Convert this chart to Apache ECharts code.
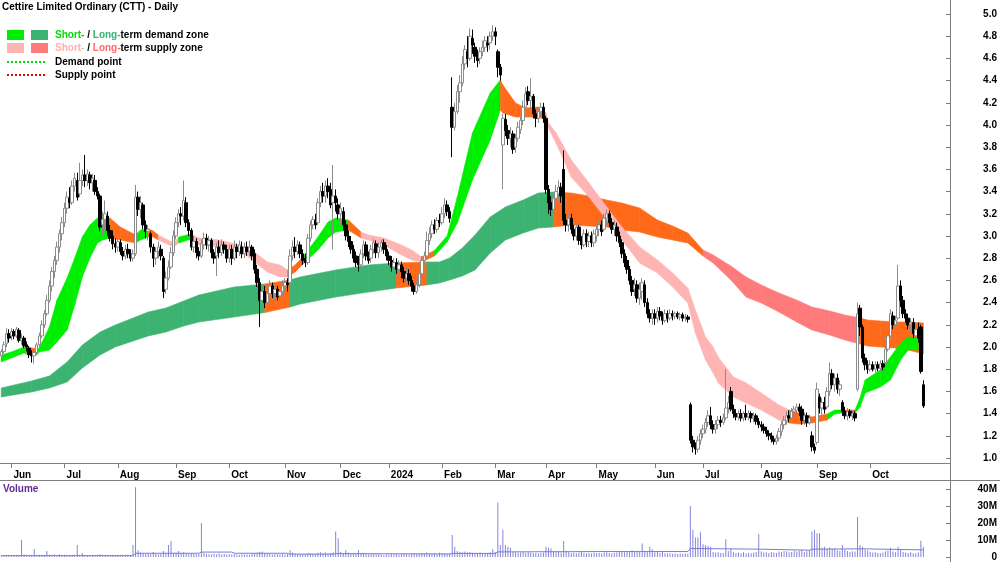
<!DOCTYPE html>
<html><head><meta charset="utf-8">
<script src="https://cdn.jsdelivr.net/npm/echarts@6/dist/echarts.min.js"></script>
<style>html,body{margin:0;padding:0;background:#fff}#c{width:1000px;height:562px}</style>
</head><body><div id="c"></div>
<script>
// ---- categories: trading months and days per month ----
const monthKeys = ['2023-05','2023-06','2023-07','2023-08','2023-09','2023-10','2023-11','2023-12','2024-01','2024-02','2024-03','2024-04','2024-05','2024-06','2024-07','2024-08','2024-09','2024-10'];
const monthLabels = ['May','Jun','Jul','Aug','Sep','Oct','Nov','Dec','2024','Feb','Mar','Apr','May','Jun','Jul','Aug','Sep','Oct'];
const tradingDays = [4,21,21,23,21,22,22,19,21,21,20,20,23,19,23,22,21,22];
const padDays = 10;

const priceTicks = {min: 1.0, max: 5.0, step: 0.2};
const volumeTicks = {min: 0, max: 40, step: 10};

// ---- daily candles [open, close, low, high] ----
const ohlc = [
// May 23
[1.92,1.96,1.88,1.98],[1.96,2.02,1.94,2.05],[2.03,2.12,2.0,2.17],[2.12,2.08,2.04,2.16],
// Jun 23
[2.1,2.14,2.06,2.17],[2.14,2.1,2.07,2.16],[2.1,2.16,2.08,2.18],[2.15,2.06,2.04,2.17],[2.06,2.08,2.02,2.12],[2.08,2.01,1.99,2.1],[2.02,2.0,1.96,2.05],[1.99,1.93,1.9,2.01],[1.94,1.92,1.86,1.97],[1.92,1.95,1.85,1.98],[1.95,2.02,1.93,2.04],[2.02,2.1,2.0,2.13],[2.1,2.2,2.08,2.24],[2.2,2.3,2.17,2.33],[2.3,2.42,2.28,2.47],[2.42,2.55,2.4,2.6],[2.55,2.68,2.5,2.72],[2.68,2.78,2.62,2.82],[2.78,2.9,2.74,2.95],[2.9,3.02,2.85,3.06],[3.02,3.12,2.96,3.17],
// Jul 23
[3.12,3.25,3.08,3.3],[3.25,3.35,3.2,3.4],[3.34,3.3,3.25,3.44],[3.3,3.45,3.28,3.5],[3.45,3.52,3.4,3.57],[3.5,3.35,3.32,3.57],[3.38,3.5,3.35,3.66],[3.5,3.55,3.45,3.6],[3.55,3.5,3.44,3.73],[3.5,3.56,3.45,3.6],[3.55,3.48,3.42,3.58],[3.48,3.52,3.4,3.56],[3.5,3.4,3.37,3.55],[3.4,3.36,3.33,3.44],[3.36,3.08,3.04,3.38],[3.1,3.15,3.0,3.22],[3.15,3.2,3.05,3.32],[3.18,3.05,3.0,3.22],[3.05,2.98,2.95,3.1],[3.0,2.93,2.88,3.05],[2.93,2.9,2.85,2.98],
// Aug 23
[2.9,2.95,2.86,2.98],[2.94,2.86,2.83,2.97],[2.86,2.82,2.78,2.9],[2.82,2.88,2.79,2.92],[2.88,2.84,2.8,2.93],[2.84,2.8,2.77,2.88],[2.8,2.84,2.77,2.88],[2.84,3.35,2.82,3.46],[3.35,3.24,3.18,3.4],[3.24,3.3,3.16,3.36],[3.28,3.1,3.06,3.3],[3.1,3.04,2.98,3.14],[3.04,3.06,2.96,3.1],[3.02,2.9,2.85,3.04],[2.9,2.8,2.72,2.93],[2.8,2.86,2.74,2.9],[2.86,2.9,2.8,2.95],[2.88,2.82,2.78,2.92],[2.8,2.5,2.44,2.82],[2.52,2.62,2.48,2.68],[2.62,2.72,2.6,2.78],[2.72,2.85,2.7,2.9],[2.85,3.0,2.82,3.05],
// Sep 23
[3.0,3.12,2.97,3.17],[3.12,3.2,3.08,3.24],[3.2,3.18,3.1,3.26],[3.18,3.32,3.14,3.5],[3.3,3.12,3.08,3.35],[3.12,3.05,3.0,3.15],[3.05,2.9,2.87,3.07],[2.9,2.95,2.85,3.0],[2.95,2.85,2.8,2.98],[2.86,2.82,2.78,2.9],[2.82,2.93,2.8,2.97],[2.92,2.98,2.88,3.03],[2.98,2.92,2.88,3.02],[2.92,2.96,2.86,3.0],[2.96,2.85,2.8,2.98],[2.85,2.8,2.75,2.88],[2.82,2.9,2.64,2.94],[2.9,2.85,2.8,2.96],[2.85,2.92,2.82,2.97],[2.92,2.88,2.84,2.95],[2.88,2.8,2.76,2.92],
// Oct 23
[2.8,2.88,2.76,2.92],[2.88,2.8,2.74,2.92],[2.8,2.9,2.78,2.96],[2.9,2.86,2.8,2.93],[2.86,2.92,2.82,2.96],[2.9,2.84,2.8,2.95],[2.84,2.9,2.8,2.94],[2.9,2.86,2.82,2.95],[2.86,2.9,2.82,2.96],[2.9,2.82,2.78,2.92],[2.84,2.7,2.66,2.88],[2.7,2.58,2.54,2.74],[2.58,2.42,2.18,2.62],[2.42,2.5,2.36,2.56],[2.5,2.4,2.35,2.55],[2.4,2.48,2.36,2.52],[2.48,2.55,2.42,2.6],[2.55,2.48,2.44,2.58],[2.48,2.52,2.42,2.56],[2.52,2.45,2.42,2.55],[2.46,2.5,2.42,2.56],[2.5,2.55,2.46,2.6],
// Nov 23
[2.55,2.58,2.5,2.62],[2.58,2.56,2.5,2.62],[2.58,2.82,2.56,2.88],[2.82,2.9,2.78,2.96],[2.9,2.86,2.8,2.99],[2.86,2.92,2.83,2.96],[2.92,2.84,2.8,2.95],[2.84,2.78,2.74,2.88],[2.8,2.76,2.72,2.84],[2.76,2.98,2.74,3.02],[2.98,3.1,2.95,3.14],[3.1,3.15,3.06,3.18],[3.14,3.1,3.06,3.2],[3.12,3.3,3.1,3.34],[3.3,3.4,3.26,3.45],[3.4,3.36,3.3,3.48],[3.36,3.45,3.3,3.5],[3.45,3.4,3.34,3.52],[3.42,3.28,3.25,3.48],[3.3,3.36,2.88,3.64],[3.36,3.3,3.22,3.42],[3.28,3.2,3.15,3.34],
// Dec 23
[3.2,3.25,3.1,3.3],[3.22,3.1,3.05,3.26],[3.1,3.0,2.96,3.14],[3.0,2.95,2.9,3.05],[2.95,2.88,2.84,3.0],[2.88,2.8,2.76,2.92],[2.82,2.76,2.72,2.86],[2.76,2.74,2.68,2.82],[2.74,2.84,2.72,2.88],[2.84,2.92,2.8,2.96],[2.92,2.82,2.78,2.95],[2.82,2.78,2.75,2.86],[2.8,2.88,2.76,2.92],[2.88,2.94,2.84,2.97],[2.93,2.85,2.8,2.96],[2.85,2.9,2.8,2.94],[2.9,2.94,2.86,2.97],[2.94,2.88,2.84,2.97],[2.88,2.82,2.78,2.92],
// Jan 24
[2.82,2.78,2.74,2.86],[2.78,2.72,2.68,2.82],[2.72,2.76,2.68,2.8],[2.76,2.7,2.66,2.8],[2.7,2.74,2.66,2.78],[2.74,2.68,2.62,2.77],[2.68,2.62,2.58,2.72],[2.62,2.66,2.58,2.72],[2.66,2.6,2.56,2.7],[2.6,2.55,2.5,2.64],[2.55,2.5,2.47,2.58],[2.5,2.56,2.48,2.6],[2.56,2.66,2.54,2.7],[2.66,2.78,2.62,2.82],[2.78,2.82,2.74,2.86],[2.82,2.96,2.8,3.04],[2.96,3.02,2.92,3.08],[3.02,3.1,2.98,3.14],[3.1,3.06,3.02,3.15],[3.06,3.14,3.03,3.17],[3.14,3.12,3.08,3.2],
// Feb 24
[3.12,3.2,3.1,3.26],[3.2,3.28,3.16,3.34],[3.28,3.22,3.18,3.32],[3.22,3.16,3.12,3.26],[4.16,3.98,3.71,4.43],[3.98,4.12,3.95,4.2],[4.12,4.3,4.1,4.36],[4.3,4.38,4.2,4.45],[4.38,4.55,4.35,4.62],[4.55,4.68,4.5,4.72],[4.66,4.6,4.52,4.8],[4.6,4.8,4.58,4.87],[4.78,4.72,4.64,4.86],[4.7,4.62,4.56,4.74],[4.62,4.58,4.52,4.68],[4.6,4.66,4.55,4.7],[4.66,4.7,4.62,4.76],[4.7,4.76,4.66,4.8],[4.74,4.72,4.66,4.8],[4.74,4.8,4.68,4.84],[4.8,4.84,4.76,4.9],
// Mar 24
[4.84,4.8,4.72,4.88],[4.66,4.52,4.43,4.68],[4.52,4.45,4.4,4.55],[3.82,4.06,3.42,4.1],[4.05,3.95,3.9,4.1],[3.95,3.88,3.82,4.0],[3.88,3.92,3.8,3.98],[3.92,3.78,3.74,3.95],[3.8,3.88,3.75,3.92],[3.88,3.98,3.85,4.03],[3.96,4.04,3.92,4.08],[4.04,4.16,4.0,4.22],[4.16,4.28,4.12,4.34],[4.3,4.22,4.18,4.35],[4.22,4.26,4.15,4.42],[4.26,4.1,4.06,4.28],[4.1,4.06,3.98,4.14],[4.06,4.12,4.02,4.16],[4.12,4.16,4.08,4.2],[4.16,4.06,4.02,4.2],
// Apr 24
[4.06,3.42,3.38,4.08],[3.42,3.3,3.2,3.46],[3.3,3.24,3.18,3.36],[3.24,3.34,3.2,3.38],[3.34,3.4,3.3,3.46],[3.38,3.44,3.32,3.5],[3.44,3.36,3.3,3.48],[3.6,3.14,3.1,3.77],[3.14,3.1,3.04,3.2],[3.1,3.16,3.04,3.2],[3.16,3.06,3.02,3.2],[3.06,3.0,2.96,3.1],[3.0,3.08,2.96,3.12],[3.08,2.96,2.92,3.1],[2.96,2.92,2.88,3.0],[2.92,3.02,2.9,3.06],[3.02,2.95,2.9,3.06],[2.95,3.0,2.9,3.04],[3.0,2.94,2.9,3.04],[2.94,3.02,2.9,3.06],
// May 24
[3.0,3.06,2.95,3.1],[3.06,3.1,3.0,3.14],[3.1,3.04,3.0,3.14],[3.06,3.16,3.04,3.2],[3.16,3.2,3.1,3.24],[3.2,3.12,3.08,3.23],[3.12,3.06,3.02,3.16],[3.06,3.1,3.0,3.14],[3.08,3.0,2.95,3.12],[3.0,2.94,2.9,3.04],[2.94,2.84,2.8,2.97],[2.84,2.76,2.72,2.88],[2.78,2.7,2.66,2.82],[2.7,2.6,2.56,2.73],[2.6,2.5,2.46,2.64],[2.52,2.56,2.46,2.62],[2.56,2.44,2.4,2.6],[2.44,2.52,2.38,2.58],[2.5,2.58,2.42,2.62],[2.56,2.4,2.36,2.6],[2.4,2.3,2.26,2.44],[2.3,2.26,2.22,2.34],[2.26,2.3,2.2,2.34],
// Jun 24
[2.3,2.26,2.2,2.34],[2.26,2.32,2.22,2.36],[2.32,2.28,2.24,2.36],[2.28,2.24,2.2,2.32],[2.24,2.3,2.22,2.34],[2.3,2.26,2.22,2.33],[2.26,2.3,2.24,2.34],[2.3,2.28,2.24,2.33],[2.28,2.3,2.25,2.32],[2.3,2.27,2.25,2.32],[2.27,2.29,2.24,2.31],[2.29,2.26,2.23,2.31],[2.26,2.27,2.23,2.3],[2.27,2.25,2.22,2.29],[1.48,1.16,1.13,1.5],[1.16,1.1,1.05,1.2],[1.1,1.08,1.03,1.14],[1.08,1.16,1.05,1.2],[1.16,1.22,1.12,1.26],
// Jul 24
[1.22,1.26,1.18,1.3],[1.26,1.32,1.22,1.36],[1.32,1.38,1.28,1.43],[1.38,1.3,1.26,1.46],[1.3,1.26,1.22,1.34],[1.26,1.3,1.22,1.34],[1.3,1.34,1.26,1.38],[1.34,1.32,1.28,1.38],[1.32,1.36,1.3,1.4],[1.36,1.45,1.34,1.8],[1.45,1.5,1.4,1.56],[1.6,1.44,1.42,1.64],[1.44,1.4,1.36,1.48],[1.4,1.37,1.34,1.44],[1.37,1.4,1.34,1.43],[1.4,1.36,1.33,1.44],[1.36,1.4,1.33,1.42],[1.4,1.37,1.34,1.48],[1.37,1.4,1.34,1.43],[1.4,1.36,1.32,1.42],[1.36,1.38,1.32,1.41],[1.38,1.33,1.3,1.4],[1.33,1.3,1.27,1.36],
// Aug 24
[1.3,1.28,1.24,1.33],[1.28,1.25,1.22,1.31],[1.25,1.22,1.19,1.28],[1.22,1.2,1.16,1.25],[1.2,1.17,1.14,1.23],[1.17,1.15,1.12,1.2],[1.15,1.18,1.12,1.21],[1.18,1.24,1.15,1.27],[1.24,1.3,1.2,1.33],[1.3,1.34,1.26,1.38],[1.34,1.38,1.3,1.42],[1.38,1.36,1.32,1.43],[1.36,1.42,1.33,1.45],[1.42,1.44,1.38,1.47],[1.43,1.46,1.4,1.49],[1.46,1.42,1.38,1.49],[1.44,1.34,1.3,1.47],[1.34,1.38,1.3,1.41],[1.38,1.32,1.28,1.41],[1.32,1.36,1.3,1.39],[1.2,1.1,1.06,1.24],[1.1,1.07,1.04,1.13],
// Sep 24
[1.14,1.62,1.12,1.68],[1.55,1.45,1.4,1.58],[1.45,1.5,1.38,1.54],[1.5,1.44,1.4,1.55],[1.46,1.6,1.44,1.64],[1.6,1.76,1.56,1.86],[1.76,1.66,1.62,1.8],[1.66,1.72,1.6,1.76],[1.72,1.62,1.58,1.76],[1.62,1.66,1.56,1.7],[1.5,1.42,1.38,1.52],[1.42,1.38,1.35,1.46],[1.38,1.42,1.34,1.45],[1.42,1.38,1.36,1.44],[1.38,1.4,1.34,1.43],[1.4,1.36,1.33,1.42],[1.62,2.3,1.6,2.4],[2.35,2.18,2.1,2.38],[2.18,1.9,1.86,2.2],[1.9,1.84,1.79,1.94],[1.84,1.8,1.76,1.88],
// Oct 24
[1.8,1.84,1.78,1.88],[1.84,1.8,1.78,1.87],[1.8,1.84,1.77,1.87],[1.84,1.81,1.78,1.87],[1.81,1.85,1.78,1.88],[1.85,1.82,1.79,1.88],[1.86,1.98,1.84,2.02],[1.98,2.1,1.96,2.14],[2.1,2.3,2.08,2.34],[2.28,2.2,2.16,2.32],[2.2,2.24,2.14,2.28],[2.26,2.55,2.24,2.74],[2.55,2.42,2.36,2.6],[2.42,2.3,2.26,2.46],[2.3,2.26,2.22,2.34],[2.26,2.2,2.16,2.3],[2.2,2.22,2.14,2.26],[2.22,2.12,2.08,2.26],[2.1,2.16,2.04,2.2],[2.16,2.08,2.04,2.22],[2.18,1.78,1.76,2.2],[1.66,1.47,1.45,1.7]
];

// ---- daily volume, millions ----
const volumes = [
0.8,1.0,1.2,0.9,
1.0,0.7,1.1,0.9,10.0,1.4,1.0,0.8,1.2,4.7,1.0,1.3,0.9,1.1,3.5,1.2,1.1,1.5,1.2,1.4,1.0,
1.3,1.1,0.9,1.2,1.0,7.0,1.1,2.4,1.0,0.9,0.8,1.0,0.9,0.8,1.4,1.0,0.8,0.7,0.9,0.7,0.8,
0.8,0.7,0.9,0.7,0.9,1.0,7.0,41.0,4.0,2.6,2.0,1.8,2.0,1.6,3.0,1.9,1.5,1.7,3.5,2.2,7.0,9.4,2.4,
2.5,3.5,2.2,2.8,2.0,1.8,2.1,1.9,1.6,1.8,20.0,2.4,1.9,1.7,1.5,1.9,1.6,2.0,1.4,1.7,1.5,
1.6,1.4,1.8,1.5,1.3,1.6,1.4,1.5,1.2,1.7,2.2,2.5,3.0,3.2,2.4,1.9,1.7,1.5,1.8,1.6,1.4,1.7,
1.5,1.8,4.0,2.6,2.0,1.7,1.5,1.8,1.6,2.4,2.2,1.9,1.7,2.5,2.8,2.2,2.6,2.0,2.4,2.8,15.0,11.0,
3.0,2.4,4.0,2.6,2.2,2.0,1.8,4.0,2.1,1.9,1.7,1.5,1.8,1.6,1.4,1.7,1.3,1.1,1.5,
1.4,1.6,1.5,1.8,1.4,1.7,2.0,1.6,1.5,1.9,2.2,1.8,2.0,2.3,2.1,2.6,2.2,1.9,2.0,1.8,2.5,
2.2,2.0,1.8,1.9,13.0,6.0,3.5,3.0,2.8,3.2,2.6,3.0,2.5,2.4,2.2,2.6,2.3,2.0,2.4,2.8,4.5,
3.0,32.0,7.0,16.0,7.0,6.0,5.5,3.2,2.8,2.5,2.6,3.0,2.4,2.8,2.6,2.2,2.4,2.0,2.3,2.6,
6.0,5.5,5.0,3.5,2.8,3.0,2.6,9.4,3.4,2.8,2.4,2.6,2.2,2.5,3.5,2.3,2.0,2.4,2.1,2.6,
2.2,2.4,2.0,2.6,2.8,2.3,2.1,2.5,2.7,3.0,3.2,2.8,3.4,3.0,4.0,3.2,3.6,3.0,8.0,3.4,3.0,6.0,4.5,
2.8,3.5,2.4,3.0,2.2,2.0,2.4,1.9,2.1,1.8,2.0,1.7,2.2,1.9,30.0,16.0,11.5,11.5,14.5,
7.5,7.0,6.5,6.0,3.0,2.6,2.8,2.4,2.2,10.5,3.6,5.0,3.0,2.4,2.6,2.2,2.8,2.0,2.4,2.2,2.6,3.0,13.5,
3.2,2.6,2.8,2.4,3.0,2.6,2.4,3.2,3.0,3.6,3.4,2.8,3.0,3.8,3.2,3.6,4.2,3.0,3.4,3.8,15.0,16.0,
14.0,14.0,5.5,6.0,5.0,5.6,4.8,5.2,4.0,3.6,7.0,4.2,3.5,3.0,3.4,3.2,23.5,7.0,6.0,4.2,3.8,
3.0,2.6,2.8,2.4,2.2,2.6,3.4,3.8,5.5,3.2,2.8,6.0,4.4,3.0,2.6,2.4,2.8,2.2,2.0,2.6,9.5,6.0
];

// ---- volume moving average [dayIndex, millions] ----
const volumeAvg = [[0,0.8],[52,0.8],[53,2.2],[78,2.2],[79,2.9],[91,2.9],[92,2.2],[113,2.2],[114,1.7],[131,1.7],[132,2.0],[177,1.8],[178,2.1],[195,2.1],[196,3.0],[240,3.2],[271,3.2],[272,5.0],[300,4.6],[319,4.0],[320,4.6],[340,4.8],[364,4.2]];

// ---- zones [dayIndex, lower, upper, state] ; state: SD short demand, LD long demand, SS short supply, LS long supply, N neutral ----
const longBand = [
[0,1.550,1.631,'LD'],[12,1.595,1.694,'LD'],[19,1.631,1.739,'LD'],[26,1.685,1.865,'LD'],[32,1.811,2.018,'LD'],[39,1.928,2.135,'LD'],[45,2.0,2.198,'LD'],[52,2.054,2.261,'LD'],[58,2.099,2.315,'LD'],[65,2.135,2.351,'LD'],[72,2.189,2.414,'LD'],[78,2.225,2.468,'LD'],[92,2.270,2.541,'LD'],
[104,2.31,2.568,'N'],[114,2.36,2.604,'LD'],[118,2.387,2.631,'LD'],[132,2.45,2.694,'LD'],[145,2.495,2.739,'LD'],[156,2.532,2.757,'N'],[168,2.559,2.766,'LD'],[173,2.577,2.766,'LD'],[177,2.604,2.802,'LD'],[182,2.64,2.892,'LD'],[187,2.694,3.009,'LD'],[193,2.847,3.171,'LD'],[199,2.964,3.261,'LD'],[206,3.027,3.324,'LD'],[212,3.072,3.387,'LD'],
[218,3.081,3.396,'N'],[225,3.099,3.387,'N'],[232,3.09,3.36,'N'],[239,3.081,3.324,'N'],[245,3.054,3.297,'N'],[252,3.036,3.252,'N'],[259,2.991,3.144,'N'],[265,2.964,3.09,'N'],[271,2.937,3.027,'N'],
[277,2.82,2.874,'LS'],[281,2.757,2.829,'LS'],[288,2.604,2.73,'LS'],[294,2.45,2.631,'LS'],[300,2.396,2.559,'LS'],[307,2.315,2.486,'LS'],[314,2.225,2.423,'LS'],[320,2.153,2.36,'LS'],[327,2.108,2.324,'LS'],[333,2.063,2.288,'LS'],
[339,2.027,2.261,'N'],[342,2.009,2.243,'N'],[347,2.0,2.234,'N'],[353,1.991,2.225,'N'],[358,1.973,2.225,'N'],[364,1.937,2.216,'N']
];
const shortBand = [
[0,1.865,1.928,'SD'],[4,1.901,1.955,'SD'],[9,1.946,2.0,'SD'],[10,1.937,2.0,'N'],[14,1.928,1.982,'SD'],[15,1.955,1.991,'SD'],[19,1.973,2.18,'SD'],[22,2.045,2.423,'SD'],[26,2.153,2.622,'SD'],[29,2.378,2.802,'SD'],[32,2.631,2.991,'SD'],[35,2.802,3.099,'SD'],[38,2.937,3.162,'SD'],[40,2.964,3.171,'SD'],
[43,2.982,3.16,'N'],[47,2.964,3.081,'N'],[53,2.937,3.01,'SD'],[55,2.964,3.054,'SD'],[58,2.991,3.065,'N'],[60,2.991,3.045,'N'],[62,2.964,3.009,'SS'],[68,2.901,2.937,'SS'],[70,2.937,2.991,'SD'],[75,2.973,3.018,'SS'],[78,2.919,2.982,'SS'],[86,2.901,2.964,'SS'],[94,2.874,2.919,'SS'],[100,2.766,2.856,'SS'],[105,2.676,2.766,'SS'],[110,2.631,2.739,'SS'],
[113,2.631,2.694,'N'],[116,2.676,2.739,'N'],[119,2.745,2.81,'SD'],[125,2.874,2.991,'SD'],[129,2.982,3.126,'SD'],[132,3.036,3.162,'SD'],[137,3.054,3.144,'N'],[142,2.982,3.036,'SS'],[145,2.964,3.009,'SS'],[151,2.919,2.982,'SS'],[158,2.829,2.919,'SS'],[162,2.784,2.874,'SS'],
[166,2.766,2.811,'N'],[171,2.82,2.87,'SD'],[176,2.946,3.0,'SD'],[180,3.117,3.351,'SD'],[186,3.505,3.928,'SD'],[193,3.865,4.288,'SD'],
[197,4.135,4.405,'N'],[198,4.108,4.36,'N'],[203,4.072,4.198,'N'],[207,4.072,4.153,'N'],[212,4.072,4.162,'N'],
[215,4.045,4.108,'SS'],[216,3.973,4.018,'SS'],[219,3.838,3.928,'SS'],[225,3.532,3.685,'SS'],[232,3.351,3.477,'SS'],[239,3.144,3.261,'SS'],[245,2.964,3.081,'SS'],[252,2.757,2.901,'SS'],[259,2.667,2.784,'SS'],[265,2.541,2.667,'SS'],[271,2.396,2.532,'SS'],[274,2.126,2.333,'SS'],[278,1.883,2.09,'SS'],[281,1.766,2.0,'SS'],[283,1.676,1.91,'SS'],[289,1.55,1.73,'SS'],[294,1.495,1.676,'SS'],[300,1.432,1.586,'SS'],[307,1.342,1.477,'SS'],
[311,1.315,1.432,'N'],[315,1.306,1.405,'N'],[320,1.315,1.369,'N'],[326,1.342,1.396,'SD'],[329,1.396,1.432,'SD'],[332,1.405,1.432,'N'],[337,1.405,1.432,'SD'],[339,1.459,1.541,'SD'],[341,1.586,1.703,'SD'],[347,1.64,1.793,'SD'],[351,1.703,1.91,'SD'],[355,1.883,2.036,'SD'],[358,1.973,2.09,'SD'],[362,1.973,2.081,'SD']
];

// ---- styles ----
const zoneColors = {SD:'#00ee00', LD:'#3cb371', SS:'#ffb4b4', LS:'#ff7a7a', N:'#ff6a1a'};
const FONT = 'Arial, "Liberation Sans", sans-serif';
const AXIS_GRAY = '#7f7f7f';

// build categories
const categories = [];
const monthStartLabel = {};
monthKeys.forEach((mk, m) => {
  for (let d = 1; d <= tradingDays[m]; d++) {
    if (d === 1 && m > 0) monthStartLabel[categories.length] = monthLabels[m];
    categories.push(mk + '-' + d);
  }
});
for (let p = 1; p <= padDays; p++) categories.push('pad-' + p);
const isMonthStart = (idx) => monthStartLabel[idx] !== undefined;

function bandSeries(band, name) {
  return {
    type: 'custom', name: name, xAxisIndex: 0, yAxisIndex: 0, silent: true,
    data: band.map(b => [b[0], b[1], b[2]]),
    encode: {x: 0, y: [1, 2]},
    renderItem: function (params, api) {
      const k = params.dataIndexInside;
      if (k >= band.length - 1) return null;
      const xa = api.value(0, k), xb = api.value(0, k + 1);
      const p1 = api.coord([xa, api.value(1, k)]);
      const p2 = api.coord([xa, api.value(2, k)]);
      const p3 = api.coord([xb, api.value(2, k + 1)]);
      const p4 = api.coord([xb, api.value(1, k + 1)]);
      const col = zoneColors[band[k][3]];
      return {type: 'polygon', shape: {points: [p1, p2, p3, p4]}, style: {fill: col, stroke: col, lineWidth: 0.6}};
    }
  };
}

const chart = echarts.init(document.getElementById('c'), null, {renderer: 'canvas'});
const labelStyle = {fontFamily: FONT, fontSize: 10, fontWeight: 'bold', color: '#000'};
const legendFont = 'bold 10px ' + FONT;

chart.setOption({
  animation: false,
  backgroundColor: '#ffffff',
  grid: [
    {left: 0, right: 50, top: 14, height: 444},
    {left: 0, right: 50, top: 489, height: 68}
  ],
  xAxis: [
    {type: 'category', gridIndex: 0, data: categories, boundaryGap: true, offset: 6,
     axisLine: {show: false},
     axisTick: {show: true, alignWithLabel: true, length: 4, interval: (i) => isMonthStart(i), lineStyle: {color: AXIS_GRAY}},
     axisLabel: Object.assign({interval: (i) => isMonthStart(i), formatter: (v, i) => monthStartLabel[i] || '', align: 'left', margin: 6, padding: [0, 0, 0, 2]}, labelStyle),
     splitLine: {show: false}},
    {type: 'category', gridIndex: 1, data: categories, boundaryGap: true, show: false}
  ],
  yAxis: [
    {type: 'value', gridIndex: 0, position: 'right', min: priceTicks.min, max: priceTicks.max, interval: priceTicks.step,
     axisLine: {show: false}, splitLine: {show: false},
     axisTick: {show: true, inside: true, length: 4, lineStyle: {color: AXIS_GRAY}},
     axisLabel: Object.assign({formatter: (v) => v.toFixed(1), align: 'right', margin: 47}, labelStyle)},
    {type: 'value', gridIndex: 1, position: 'right', min: volumeTicks.min, max: volumeTicks.max, interval: volumeTicks.step,
     axisLine: {show: false}, splitLine: {show: false},
     axisTick: {show: true, inside: true, length: 4, lineStyle: {color: AXIS_GRAY}},
     axisLabel: Object.assign({formatter: (v) => v === 0 ? '0' : v + 'M', align: 'right', margin: 47}, labelStyle)}
  ],
  series: [
    bandSeries(longBand, 'Long-term zone'),
    bandSeries(shortBand, 'Short-term zone'),
    {type: 'candlestick', name: 'CTT', xAxisIndex: 0, yAxisIndex: 0, data: ohlc, barWidth: 3,
     itemStyle: {color: '#ffffff', color0: '#000000', borderColor: '#8c8c8c', borderColor0: '#000000', borderWidth: 1}},
    {type: 'bar', name: 'Volume', xAxisIndex: 1, yAxisIndex: 1, data: volumes, barWidth: 1, clip: false,
     itemStyle: {color: '#8585dc'}},
    {type: 'line', name: 'Volume average', xAxisIndex: 1, yAxisIndex: 1, data: volumeAvg, symbol: 'none',
     lineStyle: {color: '#7a7ad6', width: 1}}
  ],
  graphic: [
    {type: 'line', silent: true, shape: {x1: 950.5, y1: 0, x2: 950.5, y2: 562}, style: {stroke: AXIS_GRAY, lineWidth: 1}},
    {type: 'line', silent: true, shape: {x1: 0, y1: 463.5, x2: 950, y2: 463.5}, style: {stroke: AXIS_GRAY, lineWidth: 1}},
    {type: 'line', silent: true, shape: {x1: 0, y1: 480.5, x2: 1000, y2: 480.5}, style: {stroke: AXIS_GRAY, lineWidth: 1}},
    {type: 'text', silent: true, x: 2, y: 7, style: {text: 'Cettire Limited Ordinary (CTT) - Daily', font: legendFont, fill: '#000', verticalAlign: 'middle'}},
    {type: 'rect', silent: true, shape: {x: 7, y: 30, width: 17, height: 10}, style: {fill: zoneColors.SD}},
    {type: 'rect', silent: true, shape: {x: 31, y: 30, width: 17, height: 10}, style: {fill: zoneColors.LD}},
    {type: 'rect', silent: true, shape: {x: 7, y: 43, width: 17, height: 10}, style: {fill: zoneColors.SS}},
    {type: 'rect', silent: true, shape: {x: 31, y: 43, width: 17, height: 10}, style: {fill: zoneColors.LS}},
    {type: 'line', silent: true, shape: {x1: 7, y1: 62, x2: 45, y2: 62}, style: {stroke: '#00e000', lineWidth: 2, lineDash: [2, 2]}},
    {type: 'line', silent: true, shape: {x1: 7, y1: 75, x2: 45, y2: 75}, style: {stroke: '#ee0000', lineWidth: 2, lineDash: [2, 2]}},
    {type: 'text', silent: true, x: 55, y: 35, style: {text: '{a|Short-} / {b|Long-}term demand zone', font: legendFont, fill: '#000', verticalAlign: 'middle',
      rich: {a: {fill: '#00dd00', font: legendFont}, b: {fill: '#3cb371', font: legendFont}}}},
    {type: 'text', silent: true, x: 55, y: 48, style: {text: '{a|Short-} / {b|Long-}term supply zone', font: legendFont, fill: '#000', verticalAlign: 'middle',
      rich: {a: {fill: '#ffb0b0', font: legendFont}, b: {fill: '#ff6a6a', font: legendFont}}}},
    {type: 'text', silent: true, x: 55, y: 62, style: {text: 'Demand point', font: legendFont, fill: '#000', verticalAlign: 'middle'}},
    {type: 'text', silent: true, x: 55, y: 75, style: {text: 'Supply point', font: legendFont, fill: '#000', verticalAlign: 'middle'}},
    {type: 'text', silent: true, x: 3, y: 489, style: {text: 'Volume', font: legendFont, fill: '#5e2a96', verticalAlign: 'middle'}}
  ]
});
</script>
</body></html>
